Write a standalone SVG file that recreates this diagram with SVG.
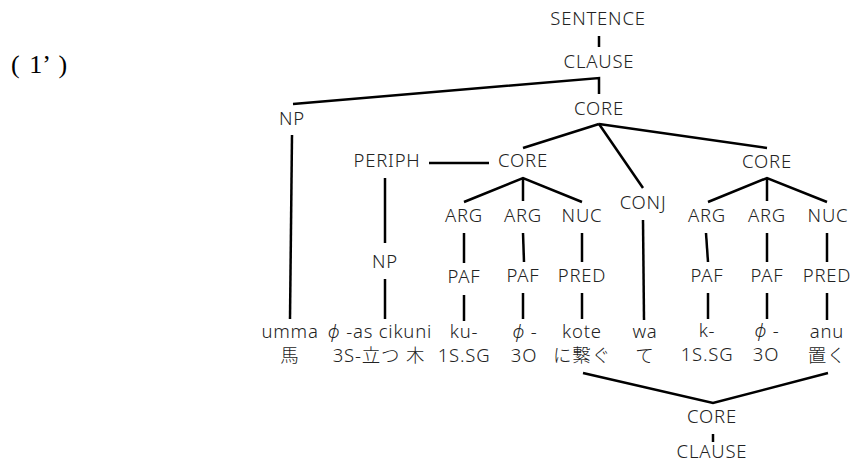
<svg xmlns="http://www.w3.org/2000/svg" width="851" height="463" viewBox="0 0 851 463">
  <style>
    .lbl { font-family: "Noto Sans", "Noto Sans CJK JP", sans-serif; font-weight: 300; font-size: 18.5px; letter-spacing: 0.8px; fill: #222; text-anchor: middle; }
    .phi { font-style: italic; }
    .num { font-family: "Liberation Serif", serif; font-size: 26px; word-spacing: 3px; fill: #000; }
    .edge { stroke: #000; stroke-width: 2.5; fill: none; stroke-linejoin: miter; }
  </style>
  <rect width="851" height="463" fill="#fff"/>

  <text class="num" x="11" y="73" xml:space="preserve">( 1’ )</text>

  <!-- tree edges -->
  <g id="connectors" class="edge">
    <line x1="599" y1="36" x2="599" y2="47"/>
    <polyline points="293,104 599,78 599,94"/>
    <line x1="599" y1="124" x2="523" y2="148"/>
    <line x1="599" y1="124" x2="643" y2="188"/>
    <line x1="599" y1="124" x2="767" y2="148"/>
    <line x1="429" y1="163" x2="489" y2="163"/>
    <line x1="292" y1="135" x2="290" y2="319"/>
    <line x1="385" y1="178" x2="385" y2="243"/>
    <line x1="385" y1="279" x2="385" y2="319"/>
    <polyline points="464,202 523,178 582,202"/>
    <line x1="523" y1="178" x2="523" y2="201"/>
    <polyline points="708,202 767,178 827,202"/>
    <line x1="767" y1="178" x2="767" y2="201"/>
    <line x1="643" y1="220" x2="644" y2="320"/>
    <line x1="464" y1="233" x2="464" y2="263"/>
    <line x1="464" y1="295" x2="464" y2="321"/>
    <line x1="523" y1="233" x2="524" y2="262"/>
    <line x1="523" y1="293" x2="523" y2="319"/>
    <line x1="582" y1="233" x2="582" y2="262"/>
    <line x1="582" y1="293" x2="582" y2="319"/>
    <line x1="706" y1="233" x2="708" y2="262"/>
    <line x1="708" y1="293" x2="708" y2="319"/>
    <line x1="767" y1="233" x2="767" y2="262"/>
    <line x1="767" y1="293" x2="767" y2="319"/>
    <line x1="827" y1="233" x2="827" y2="262"/>
    <line x1="827" y1="293" x2="827" y2="320"/>
    <polyline points="583,373 713,403 828,373"/>
    <line x1="713" y1="434" x2="713" y2="442"/>
  </g>

  <!-- upper tree -->
  <g id="sentence"><text class="lbl" x="598" y="25">SENTENCE</text></g>
  <g id="clause"><text class="lbl" x="599" y="68">CLAUSE</text></g>
  <g id="core"><text class="lbl" x="599" y="115">CORE</text></g>
  <g id="np1"><text class="lbl" x="292" y="125">NP</text></g>
  <g id="periph"><text class="lbl" x="387" y="167">PERIPH</text></g>
  <g id="core1"><text class="lbl" x="523" y="167">CORE</text></g>
  <g id="core2"><text class="lbl" x="767" y="168">CORE</text></g>
  <g id="conj"><text class="lbl" x="643" y="209">CONJ</text></g>

  <g id="arg1"><text class="lbl" x="464" y="222">ARG</text></g>
  <g id="arg2"><text class="lbl" x="523" y="222">ARG</text></g>
  <g id="nuc1"><text class="lbl" x="582" y="222">NUC</text></g>
  <g id="arg3"><text class="lbl" x="707" y="222">ARG</text></g>
  <g id="arg4"><text class="lbl" x="767" y="222">ARG</text></g>
  <g id="nuc2"><text class="lbl" x="828" y="222">NUC</text></g>

  <g id="np2"><text class="lbl" x="385" y="268">NP</text></g>
  <g id="paf1"><text class="lbl" x="464" y="283">PAF</text></g>
  <g id="paf2"><text class="lbl" x="523" y="282">PAF</text></g>
  <g id="pred1"><text class="lbl" x="582" y="282">PRED</text></g>
  <g id="paf3"><text class="lbl" x="707" y="282">PAF</text></g>
  <g id="paf4"><text class="lbl" x="767" y="282">PAF</text></g>
  <g id="pred2"><text class="lbl" x="827" y="282">PRED</text></g>

  <!-- words with glosses -->
  <g id="w-umma"><text class="lbl" x="290" y="338">umma</text><text class="lbl" x="290" y="362">馬</text></g>
  <g id="w-cikuni"><text class="lbl" x="380" y="338"><tspan class="phi">ϕ</tspan> -as cikuni</text><text class="lbl" x="379" y="362">3S-立つ 木</text></g>
  <g id="w-ku"><text class="lbl" x="464" y="338">ku-</text><text class="lbl" x="464" y="362">1S.SG</text></g>
  <g id="w-phi1"><text class="lbl" x="525" y="338"><tspan class="phi">ϕ</tspan> -</text><text class="lbl" x="524" y="362">3O</text></g>
  <g id="w-kote"><text class="lbl" x="582" y="338">kote</text><text class="lbl" x="582" y="362">に繋ぐ</text></g>
  <g id="w-wa"><text class="lbl" x="645" y="338">wa</text><text class="lbl" x="645" y="362">て</text></g>
  <g id="w-k"><text class="lbl" x="707" y="337">k-</text><text class="lbl" x="707" y="361">1S.SG</text></g>
  <g id="w-phi2"><text class="lbl" x="767" y="337"><tspan class="phi">ϕ</tspan> -</text><text class="lbl" x="766" y="361">3O</text></g>
  <g id="w-anu"><text class="lbl" x="827" y="338">anu</text><text class="lbl" x="827" y="362">置く</text></g>

  <!-- lower tree -->
  <g id="core3"><text class="lbl" x="712" y="423">CORE</text></g>
  <g id="clause2"><text class="lbl" x="712" y="458">CLAUSE</text></g>
</svg>
